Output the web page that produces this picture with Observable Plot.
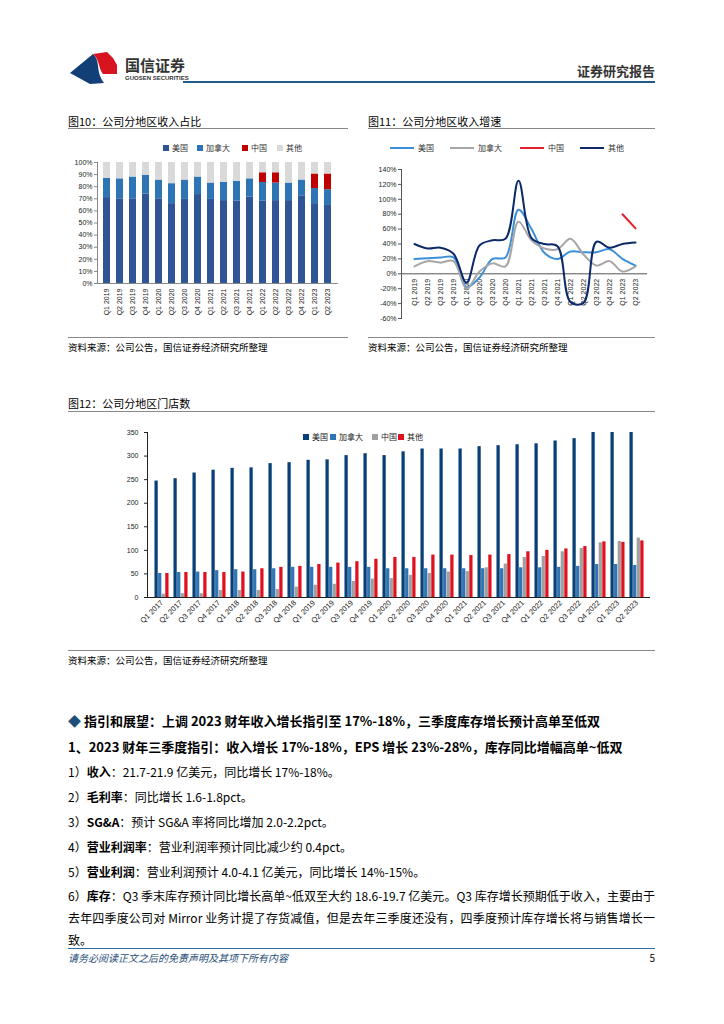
<!DOCTYPE html>
<html><head><meta charset="utf-8">
<script src="https://cdn.jsdelivr.net/npm/d3@7"></script>
<script src="https://cdn.jsdelivr.net/npm/@observablehq/plot@0.6"></script>
<style>
body{margin:0;background:#fff;}
#page{position:relative;width:724px;height:1024px;overflow:hidden;background:#fff;font-family:"Noto Sans CJK SC","Noto Sans",sans-serif;color:#000;}
.abs{position:absolute;white-space:nowrap;}
.hl{position:absolute;height:0;}
.chart{position:absolute;}
.sw{display:inline-block;width:6px;height:6px;margin-right:3px;vertical-align:middle;position:relative;top:-1px;}
.ln{display:inline-block;width:24px;height:0;border-top:2px solid;margin-right:4px;vertical-align:middle;position:relative;top:-1px;}
</style></head>
<body><div id="page"></div>
<script>
// ---------------- data ----------------
const quartersA = ["Q1 2019","Q2 2019","Q3 2019","Q4 2019","Q1 2020","Q2 2020","Q3 2020","Q4 2020","Q1 2021","Q2 2021","Q3 2021","Q4 2021","Q1 2022","Q2 2022","Q3 2022","Q4 2022","Q1 2023","Q2 2023"];
const regions = ["美国","加拿大","中国","其他"];
// Fig10: revenue share by region (%)
const shareUS = [71,70,70,74,70,66,69.5,73.5,69.5,68.5,68,71.5,68,68.5,68.5,72.5,66,64.5];
const shareCA = [15.8,16.5,18,15.5,15.5,16.5,16,14.5,13.5,15,16.5,15,15.5,14.5,14.5,13,12.5,13];
const shareCN = [0,0,0,0,0,0,0,0,0,0,0,0,8,8.5,0,0,12,13];
const shareOT = [13.2,13.5,12,10.5,14.5,17.5,14.5,12,17,16.5,15.5,13.5,8.5,8.5,17,14.5,9.5,9.5];
const shareTicks = [0,10,20,30,40,50,60,70,80,90,100];
// Fig11: revenue growth by region (%)
const growUS = [20,21,22,22,-18,-5,20,22,86,60,28,20,30,29,29,33,20,11];
const growCA = [10,17,15,17,-20,3,14,10,70,45,34,33,47,26,11,17,3,10];
const growCN = [null,null,null,null,null,null,null,null,null,null,null,null,null,null,null,null,80,61];
const growOT = [40,34,35,27,-12,38,45,47,125,48,40,37,-38,-39,43,35,40,42];
const growTicks = [-60,-40,-20,0,20,40,60,80,100,120,140];
// Fig12: stores by region
const quartersB = ["Q1 2017","Q2 2017","Q3 2017","Q4 2017","Q1 2018","Q2 2018","Q3 2018","Q4 2018","Q1 2019","Q2 2019","Q3 2019","Q4 2019","Q1 2020","Q2 2020","Q3 2020","Q4 2020","Q1 2021","Q2 2021","Q3 2021","Q4 2021","Q1 2022","Q2 2022","Q3 2022","Q4 2022","Q1 2023","Q2 2023"];
const storeUS = [247,252,264,270,274,275,284,286,291,292,301,305,301,309,315,315,315,320,322,324,326,332,337,352,353,355];
const storeCA = [51,53,54,57,59,59,61,64,64,64,64,64,61,61,61,61,61,61,61,63,63,64,66,70,70,68];
const storeCN = [7,8,8,15,15,15,17,22,26,28,34,39,40,47,51,54,55,63,71,85,87,97,104,116,119,126];
const storeOT = [51,53,53,53,54,61,64,66,70,73,76,81,85,85,90,90,89,90,91,97,100,103,108,118,117,120];
const storeTicks = [0,50,100,150,200,250,300,350];

// ---------------- helpers ----------------
const page = document.getElementById("page");
function txt(s, x, y, size, o = {}) {
  const d = document.createElement("div");
  d.className = "abs";
  d.innerHTML = s;
  d.style.fontSize = size + "px";
  d.style.lineHeight = size + "px";
  d.style.top = (y - size / 2) + "px";
  if (o.right != null) d.style.right = (724 - o.right) + "px"; else d.style.left = x + "px";
  if (o.bold) d.style.fontWeight = "bold";
  if (o.color) d.style.color = o.color;
  if (o.italic) d.style.fontStyle = "italic";
  if (o.font) d.style.fontFamily = o.font;
  if (o.width) { d.style.width = o.width + "px"; d.style.textAlign = "justify"; d.style.textAlignLast = "justify"; }
  page.appendChild(d);
  return d;
}
function hline(x1, x2, y, color, w = 1) {
  const d = document.createElement("div");
  d.className = "hl";
  d.style.left = x1 + "px"; d.style.width = (x2 - x1) + "px"; d.style.top = y + "px";
  d.style.borderTop = w + "px solid " + color;
  page.appendChild(d);
}
function place(el, x, y) { const w = document.createElement("div"); w.className = "chart"; w.style.left = x + "px"; w.style.top = y + "px"; w.appendChild(el); page.appendChild(w); }

// ---------------- header ----------------
const logo = document.createElementNS("http://www.w3.org/2000/svg", "svg");
logo.setAttribute("width", 70); logo.setAttribute("height", 50);
logo.innerHTML = `<path d="M10,33 L33,14 C41,21 35,31 44,43 L30,44 Z" fill="#123f75"/>
<path d="M33,14 L47,12 L53,18 L57,25 L57,34 L43,34 C38,28 40,20 33,14 Z" fill="#d7141f"/>`;
place(logo, 60, 40);
txt("国信证券", 125, 64, 15, {bold: true, color: "#333"});
txt("GUOSEN SECURITIES", 125, 78, 6, {bold: true, color: "#333", font: "Liberation Sans, Arial, sans-serif"});
txt("证券研究报告", 0, 70, 13, {bold: true, color: "#333", right: 655});
hline(183, 655, 81, "#1f5a8c", 2);

// ---------------- Fig10 ----------------
txt("图10：公司分地区收入占比", 68, 121, 11);
hline(68, 348, 128, "#888");
const cols10 = ["#2f5597","#2e75b6","#c00000","#d9d9d9"];
{
  const items = regions.map((r, i) => `<span class="sw" style="background:${cols10[i]}"></span>${r}`);
  const pos = [163, 197, 242, 277];
  items.forEach((h, i) => txt(h, pos[i], 148, 8, {color: "#333"}));
}
const shareRows = [];
quartersA.forEach((q, i) => {
  [shareUS, shareCA, shareCN, shareOT].forEach((arr, k) => shareRows.push({q, region: regions[k], v: arr[i]}));
});
const fig10 = Plot.plot({
  width: 290, height: 170, marginLeft: 37, marginRight: 12, marginTop: 7, marginBottom: 42,
  style: {fontFamily: "Liberation Sans, Arial, sans-serif", fontSize: "7px", color: "#222", background: "transparent", overflow: "visible"},
  x: {domain: quartersA, paddingInner: 0.45, paddingOuter: 0.225, label: null},
  y: {domain: [0, 100], label: null},
  color: {domain: regions, range: cols10},
  marks: [
    Plot.barY(shareRows, {x: "q", y: "v", fill: "region"}),
    Plot.ruleY([0], {stroke: "#888"}),
    Plot.frame({anchor: "left", stroke: "#888"}),
    Plot.axisY({ticks: shareTicks, tickFormat: d => d + "%", tickSize: 3, tickPadding: 2, stroke: "#888", label: null}),
    Plot.axisX({tickRotate: -90, tickSize: 0, tickPadding: 5, label: null})
  ]
});
place(fig10, 60, 155);

// ---------------- Fig11 ----------------
txt("图11：公司分地区收入增速", 368, 121, 11);
hline(368, 655, 128, "#888");
const cols11 = ["#3c8fd6","#a6a6a6","#e0202a","#0c2a6a"];
{
  const pos = [390, 450, 520, 580];
  regions.forEach((r, i) => txt(`<span class="ln" style="border-color:${cols11[i]}"></span>${r}`, pos[i], 148, 8, {color: "#333"}));
}
const growRows = [];
quartersA.forEach((q, i) => {
  [growUS, growCA, growCN, growOT].forEach((arr, k) => { if (arr[i] != null) growRows.push({q, region: regions[k], v: arr[i]}); });
});
const fig11 = Plot.plot({
  width: 305, height: 170, marginLeft: 46, marginRight: 13, marginTop: 14, marginBottom: 7,
  style: {fontFamily: "Liberation Sans, Arial, sans-serif", fontSize: "7px", color: "#222", background: "transparent", overflow: "visible"},
  x: {type: "point", domain: quartersA, padding: 0.5, label: null, axis: null},
  y: {domain: [-60, 140], label: null},
  color: {domain: regions, range: cols11},
  marks: [
    Plot.ruleY([0], {stroke: "#555"}),
    Plot.frame({anchor: "left", stroke: "#555"}),
    Plot.axisY({ticks: growTicks, tickFormat: d => d + "%", tickSize: 3, tickPadding: 2, stroke: "#555", label: null}),
    Plot.text(quartersA, {x: d => d, y: d => 0, text: d => d, rotate: -90, textAnchor: "end", dy: 5, fontSize: 7, fill: "#222"}),
    Plot.line(growRows, {x: "q", y: "v", stroke: "region", z: "region", strokeWidth: 2, curve: "catmull-rom"})
  ]
});
place(fig11, 355, 155);

// source lines
hline(68, 348, 337, "#888");
hline(368, 655, 337, "#888");
txt("资料来源：公司公告，国信证券经济研究所整理", 68, 348, 9.5);
txt("资料来源：公司公告，国信证券经济研究所整理", 368, 348, 9.5);

// ---------------- Fig12 ----------------
txt("图12：公司分地区门店数", 68, 403, 11);
hline(68, 655, 411, "#888");
const cols12 = ["#083f76","#2f74b5","#a0a0a0","#e0111f"];
{
  const pos = [303, 330, 372, 398];
  regions.forEach((r, i) => txt(`<span class="sw" style="background:${cols12[i]}"></span>${r}`, pos[i], 437, 8, {color: "#222"}));
}
const storeRows = quartersB.map((q, i) => ({q, us: storeUS[i], ca: storeCA[i], cn: storeCN[i], ot: storeOT[i]}));
const W12 = 600, ML12 = 87, MR12 = 10;
const step12 = (W12 - ML12 - MR12) / quartersB.length;
const bw = 3.6, gap12 = (step12 - 4 * bw) / 2;
const keys = ["us","ca","cn","ot"];
const fig12 = Plot.plot({
  width: W12, height: 235, marginLeft: ML12, marginRight: MR12, marginTop: 17, marginBottom: 53,
  style: {fontFamily: "Liberation Sans, Arial, sans-serif", fontSize: "7px", color: "#222", background: "transparent", overflow: "visible"},
  x: {domain: quartersB, padding: 0, label: null},
  y: {domain: [0, 350], label: null},
  marks: [
    ...keys.map((k, i) => Plot.barY(storeRows, {x: "q", y: k, fill: cols12[i], insetLeft: gap12 + i * bw, insetRight: step12 - gap12 - (i + 1) * bw, clip: true})),
    Plot.ruleY([0], {stroke: "#222"}),
    Plot.frame({anchor: "left", stroke: "#222"}),
    Plot.axisY({ticks: storeTicks, tickSize: 3, tickPadding: 6, stroke: "#222", label: null}),
    Plot.axisX({tickRotate: -45, tickSize: 0, tickPadding: 4, fontSize: 7.5, label: null})
  ]
});
place(fig12, 60, 415);
hline(68, 655, 650, "#888");
txt("资料来源：公司公告，国信证券经济研究所整理", 68, 661, 9.5);

// ---------------- body text ----------------
txt('<span style="color:#1f4e79">◆</span> 指引和展望：上调 2023 财年收入增长指引至 17%-18%，三季度库存增长预计高单至低双', 68, 720, 13, {bold: true});
txt("1、2023 财年三季度指引：收入增长 17%-18%，EPS 增长 23%-28%，库存同比增幅高单~低双", 68, 746, 13, {bold: true});
txt("1）<b>收入</b>：21.7-21.9 亿美元，同比增长 17%-18%。", 68, 772, 12);
txt("2）<b>毛利率</b>：同比增长 1.6-1.8pct。", 68, 797, 12);
txt("3）<b>SG&amp;A</b>：预计 SG&amp;A 率将同比增加 2.0-2.2pct。", 68, 822, 12);
txt("4）<b>营业利润率</b>：营业利润率预计同比减少约 0.4pct。", 68, 847, 12);
txt("5）<b>营业利润</b>：营业利润预计 4.0-4.1 亿美元，同比增长 14%-15%。", 68, 872, 12);
txt("6）<b>库存</b>：Q3 季末库存预计同比增长高单~低双至大约 18.6-19.7 亿美元。Q3 库存增长预期低于收入，主要由于", 68, 896, 12, {width: 587});
txt("去年四季度公司对 Mirror 业务计提了存货减值，但是去年三季度还没有，四季度预计库存增长将与销售增长一", 68, 918, 12, {width: 587});
txt("致。", 68, 940, 12);

// ---------------- footer ----------------
hline(68, 655, 948, "#2e6da4", 1);
txt("请务必阅读正文之后的免责声明及其项下所有内容", 68, 958, 10, {italic: true, color: "#1f4e79"});
txt("5", 0, 958, 10, {right: 655});
</script></body></html>
